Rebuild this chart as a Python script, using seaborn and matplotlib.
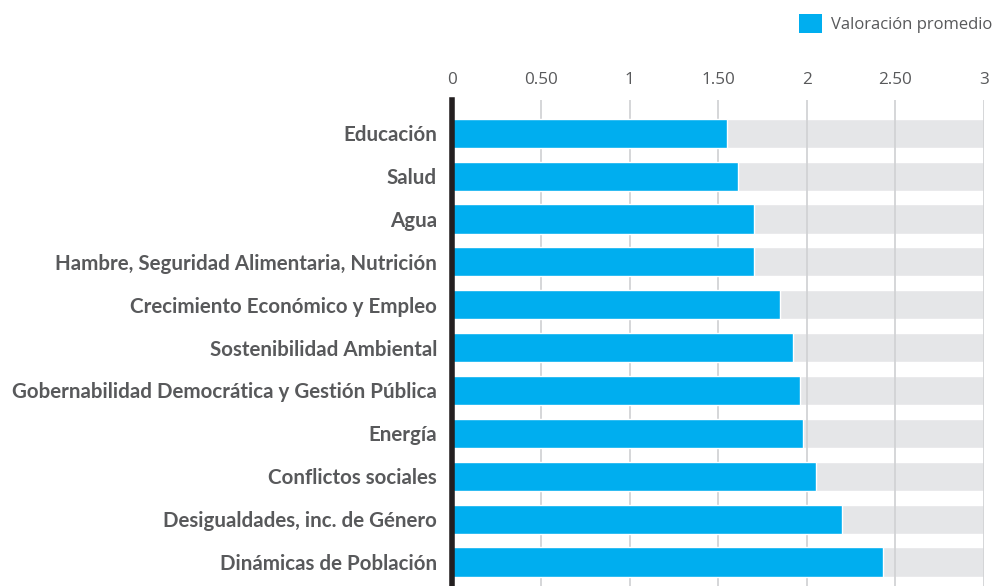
import matplotlib
matplotlib.use("Agg")
import matplotlib.pyplot as plt
import seaborn as sns
import pandas as pd
from matplotlib.patches import Patch

categorias = ["Educación", "Salud", "Agua", "Hambre, Seguridad Alimentaria, Nutrición",
              "Crecimiento Económico y Empleo", "Sostenibilidad Ambiental",
              "Gobernabilidad Democrática y Gestión Pública", "Energía",
              "Conflictos sociales", "Desigualdades, inc. de Género", "Dinámicas de Población"]
valores = [1.55, 1.61, 1.70, 1.70, 1.85, 1.92, 1.96, 1.98, 2.05, 2.20, 2.43]
maximo = [3] * len(categorias)
ticks = [0, 0.5, 1, 1.5, 2, 2.5, 3]
tick_labels = ["0", "0.50", "1", "1.50", "2", "2.50", "3"]
serie = "Valoración promedio"

df = pd.DataFrame({"cat": categorias, "val": valores, "max": maximo})

sns.set_theme(style="white")
plt.rcParams['font.family'] = ['Open Sans', 'DejaVu Sans']

fig = plt.figure(figsize=(9.94, 5.86), dpi=100)
ax = fig.add_axes([0.455, 0.0, 0.535, 0.829])

sns.barplot(data=df, y="cat", x="max", color="#e5e6e8", width=0.68, ax=ax,
            saturation=1, orient="h", zorder=1)
for t in ticks[1:]:
    ax.axvline(t, color="#d2d3d5", lw=1.3, zorder=2)
sns.barplot(data=df, y="cat", x="val", color="#00aeef", width=0.68, ax=ax,
            saturation=1, orient="h", zorder=3)

ax.set_xlim(0, 3)
ax.set_ylim(10.56, -0.77)
ax.set_xlabel("")
ax.set_ylabel("")
ax.xaxis.tick_top()
ax.set_xticks(ticks)
ax.set_xticklabels(tick_labels, color="#58595b", fontsize=12.3)
ax.tick_params(axis="x", length=0, pad=9)
ax.tick_params(axis="y", length=0, pad=11)
for lbl in ax.get_yticklabels():
    lbl.set_fontfamily(["Lato", "DejaVu Sans"])
    lbl.set_fontweight("bold")
    lbl.set_fontsize(14.8)
    lbl.set_color("#58595b")

for s in ["top", "right", "bottom"]:
    ax.spines[s].set_visible(False)
ax.spines["left"].set_color("#231f20")
ax.spines["left"].set_linewidth(4)
ax.spines["left"].set_zorder(5)

handle = Patch(facecolor="#00aeef", edgecolor="none")
fig.legend([handle], [serie], loc="upper right", bbox_to_anchor=(1.013, 1.002),
           frameon=False, handlelength=1.35, handleheight=1.35, handletextpad=0.55,
           prop={"family": "Open Sans", "size": 12}, labelcolor="#58595b")

fig.savefig("out.png", dpi=100)
